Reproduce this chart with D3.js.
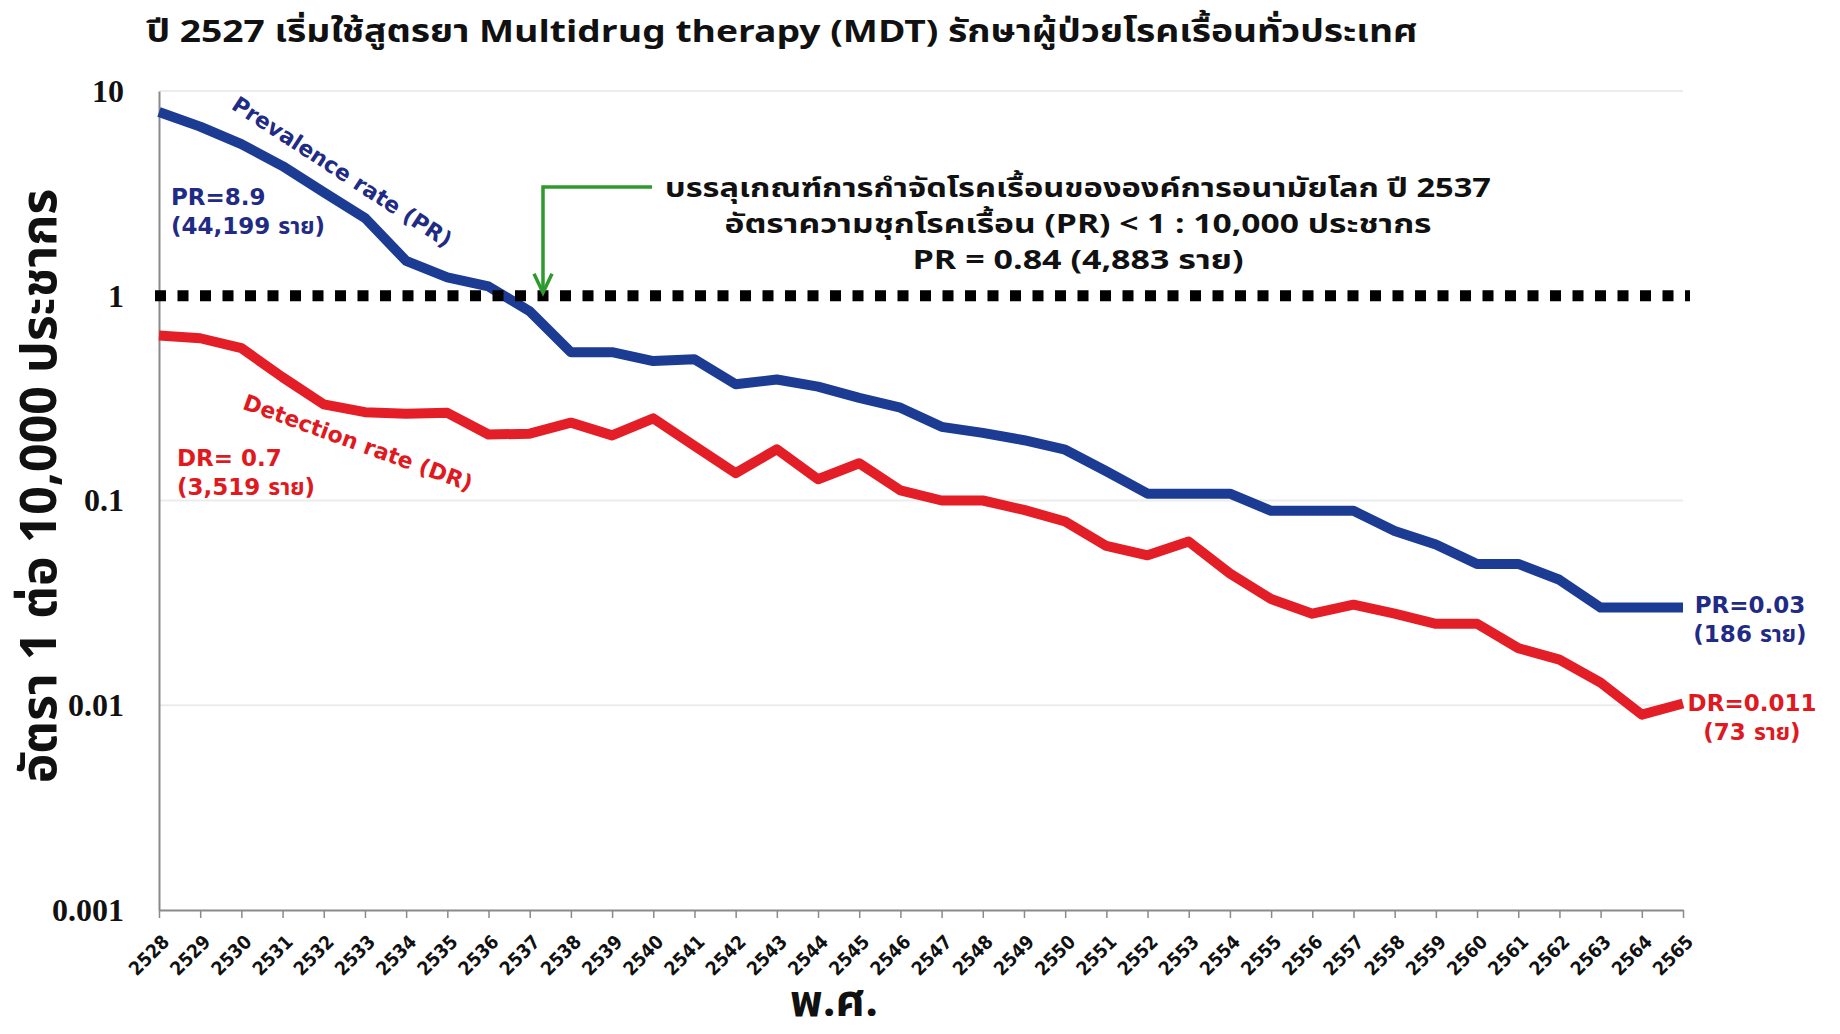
<!DOCTYPE html>
<html><head><meta charset="utf-8">
<script src="https://cdn.jsdelivr.net/npm/d3@7"></script>
<style>
html,body{margin:0;padding:0;background:#fff;}
svg{display:block;}
.thai{font-family:"Noto Sans Thai","Noto Sans",sans-serif;font-weight:bold;}
.lbl{font-family:"DejaVu Sans","Noto Sans Thai",sans-serif;font-weight:bold;}
</style></head>
<body>
<svg id="chart" width="1840" height="1034"></svg>
<script>
const years = ["2528","2529","2530","2531","2532","2533","2534","2535","2536","2537","2538","2539","2540","2541","2542","2543","2544","2545","2546","2547","2548","2549","2550","2551","2552","2553","2554","2555","2556","2557","2558","2559","2560","2561","2562","2563","2564","2565"];
const prevalenceRate = [7.9,6.7,5.5,4.3,3.2,2.4,1.48,1.23,1.11,0.84,0.53,0.53,0.48,0.49,0.37,0.39,0.36,0.317,0.284,0.229,0.214,0.197,0.177,0.139,0.108,0.108,0.108,0.089,0.089,0.089,0.071,0.061,0.049,0.049,0.041,0.030,0.030,0.030];
const detectionRate = [0.64,0.62,0.555,0.40,0.295,0.27,0.265,0.268,0.21,0.212,0.24,0.208,0.252,0.185,0.136,0.178,0.127,0.152,0.112,0.100,0.100,0.090,0.079,0.060,0.054,0.063,0.044,0.033,0.028,0.031,0.028,0.025,0.025,0.019,0.0167,0.0129,0.0090,0.0102];
const yTickValues = [10,1,0.1,0.01,0.001];
const yTickLabels = ["10","1","0.1","0.01","0.001"];
const threshold = 1;
const titleText = "ปี 2527 เริ่มใช้สูตรยา Multidrug therapy (MDT) รักษาผู้ป่วยโรคเรื้อนทั่วประเทศ";
const yTitle = "อัตรา 1 ต่อ 10,000 ประชากร";
const xTitle = "พ.ศ.";
const noteLines = ["บรรลุเกณฑ์การกำจัดโรคเรื้อนขององค์การอนามัยโลก ปี 2537","อัตราความชุกโรคเรื้อน (PR) < 1 : 10,000 ประชากร","PR = 0.84 (4,883 ราย)"];
const noteWidths = [826, 707, 331];

const svg = d3.select("#chart");
const x = d3.scalePoint().domain(years).range([159, 1683]);
const y = d3.scaleLog().domain([0.001, 10]).range([910, 91]);
const BLUE = "#1c3c94", RED = "#e41e26", BLUE_T = "#1f2b85", RED_T = "#e0191f";

// title
svg.append("text").attr("class","thai").attr("x",782).attr("y",42)
  .attr("text-anchor","middle").attr("font-size",31).attr("fill","#111")
  .attr("textLength",1271).attr("lengthAdjust","spacingAndGlyphs").text(titleText);

// gridlines
svg.append("g").selectAll("line").data([10,0.1,0.01]).join("line")
  .attr("x1",160).attr("x2",1683).attr("y1",d=>y(d)).attr("y2",d=>y(d))
  .attr("stroke","#ececec").attr("stroke-width",2);

// y axis
const yAxis = svg.append("g").attr("transform","translate(159,0)")
  .call(d3.axisLeft(y).tickValues(yTickValues).tickSize(0).tickPadding(35)
    .tickFormat((d,i)=>yTickLabels[i]));
yAxis.select(".domain").attr("stroke","#8a8a8a").attr("stroke-width",2);
yAxis.selectAll("text").attr("font-family","'Liberation Serif','Times New Roman',serif")
  .attr("font-weight","bold").attr("font-size",32).attr("fill","#111");

// x axis
const xAxis = svg.append("g").attr("transform","translate(0,910)")
  .call(d3.axisBottom(x).tickSize(8).tickSizeOuter(0).tickPadding(4));
xAxis.select(".domain").attr("stroke","#8a8a8a").attr("stroke-width",2);
xAxis.selectAll(".tick line").attr("stroke","#8a8a8a").attr("stroke-width",1.5);
xAxis.selectAll("text").attr("font-family","'DejaVu Sans Condensed','DejaVu Sans',sans-serif")
  .attr("font-weight","bold").attr("font-size",19).attr("fill","#111")
  .attr("text-anchor","end").attr("dy",null).attr("y",0)
  .attr("transform","translate(11,33) rotate(-45)");

// axis titles
svg.append("text").attr("class","thai").attr("font-size",50).attr("fill","#111")
  .attr("text-anchor","middle").attr("transform","translate(56,486) rotate(-90)").text(yTitle);
svg.append("text").attr("class","thai").attr("font-size",45).attr("fill","#111")
  .attr("text-anchor","middle").attr("x",834).attr("y",1016).text(xTitle);

// series lines
const line = d3.line().x((d,i)=>x(years[i])).y(d=>y(d));
svg.append("path").datum(detectionRate).attr("d",line).attr("fill","none")
  .attr("stroke",RED).attr("stroke-width",10).attr("stroke-linejoin","round");
svg.append("path").datum(prevalenceRate).attr("d",line).attr("fill","none")
  .attr("stroke",BLUE).attr("stroke-width",10).attr("stroke-linejoin","round");

// threshold dotted line
svg.append("line").attr("x1",155).attr("x2",1690).attr("y1",y(threshold)).attr("y2",y(threshold))
  .attr("stroke","#000").attr("stroke-width",11).attr("stroke-dasharray","11 11.5");

// green arrow annotation
const ax = 543, ay = 187;
svg.append("path").attr("d",`M652,${ay} H${ax} V${y(threshold)-4}`)
  .attr("fill","none").attr("stroke","#2e9a2e").attr("stroke-width",3.5);
svg.append("path").attr("d",`M${ax-9},${y(threshold)-22} L${ax},${y(threshold)-3} L${ax+9},${y(threshold)-22}`)
  .attr("fill","none").attr("stroke","#2e9a2e").attr("stroke-width",3.5);
svg.append("g").selectAll("text").data(noteLines).join("text").attr("class","thai")
  .attr("x",1078).attr("y",(d,i)=>197+i*36).attr("text-anchor","middle")
  .attr("font-size",26).attr("fill","#111")
  .attr("textLength",(d,i)=>noteWidths[i]).attr("lengthAdjust","spacingAndGlyphs").text(d=>d);

// series labels
svg.append("text").attr("class","lbl").attr("font-size",22).attr("fill",BLUE_T)
  .attr("text-anchor","middle").attr("dominant-baseline","central")
  .attr("transform","translate(342,172) rotate(33)").text("Prevalence rate (PR)");
svg.append("text").attr("class","lbl").attr("font-size",22).attr("fill",RED_T)
  .attr("text-anchor","middle").attr("dominant-baseline","central")
  .attr("transform","translate(358,443) rotate(20)").text("Detection rate (DR)");

function label(xp, yp, lines, color, anchor){
  svg.append("g").selectAll("text").data(lines).join("text").attr("class","lbl")
    .attr("x",xp).attr("y",(d,i)=>yp+i*29).attr("text-anchor",anchor)
    .attr("font-size",23).attr("fill",color).text(d=>d);
}
label(171,205,["PR=8.9","(44,199 ราย)"],BLUE_T,"start");
label(177,466,["DR= 0.7","(3,519 ราย)"],RED_T,"start");
label(1750,613,["PR=0.03","(186 ราย)"],BLUE_T,"middle");
label(1752,711,["DR=0.011","(73 ราย)"],RED_T,"middle");
</script>
</body></html>
